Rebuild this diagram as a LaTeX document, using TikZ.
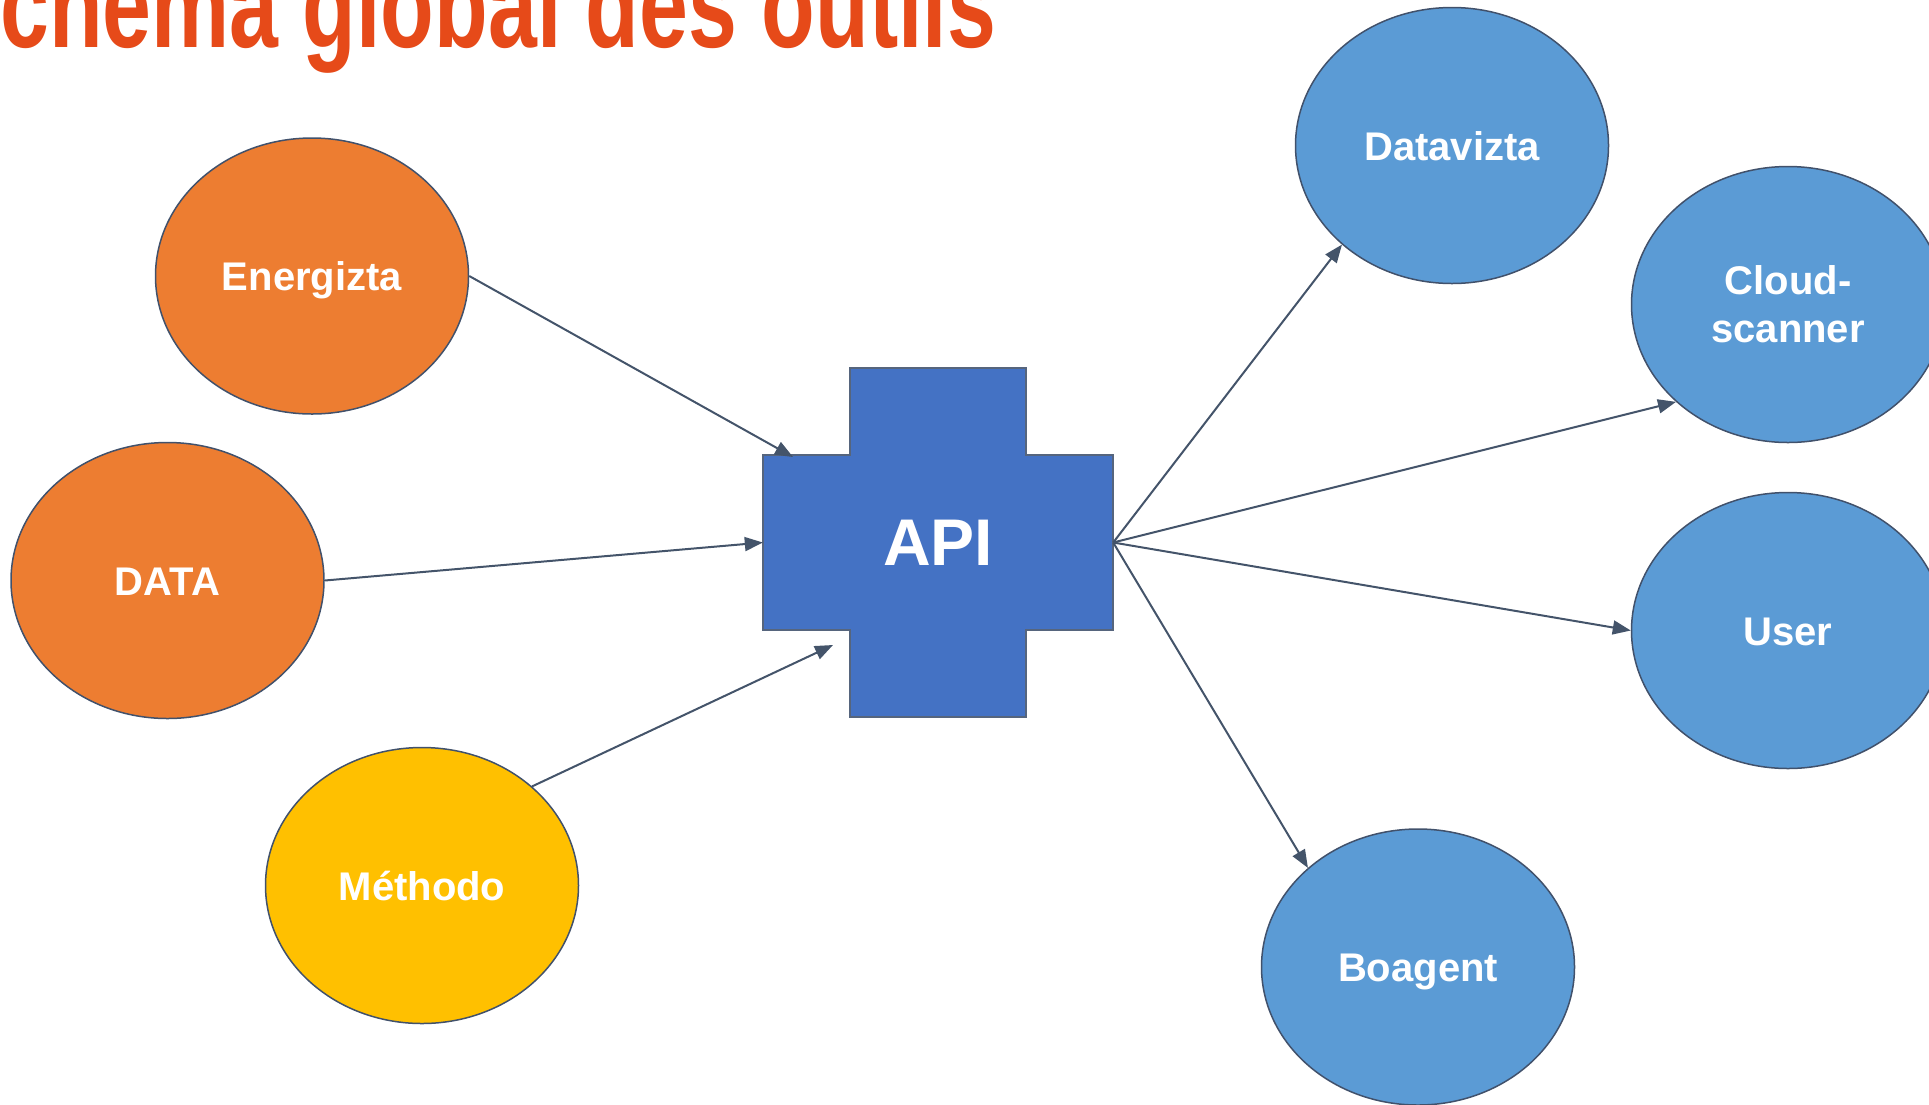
\documentclass[tikz,border=0pt]{standalone}
\usepackage{fontspec}
\setmainfont{Liberation Sans}
\newfontfamily\titlefont[FakeStretch=0.72]{Liberation Sans}
\usepackage{tikz}
\usetikzlibrary{shapes.geometric, arrows.meta, positioning, calc}
\definecolor{titleRed}{HTML}{E64A19}
\definecolor{srcOrange}{HTML}{ED7D31}
\definecolor{srcYellow}{HTML}{FFC000}
\definecolor{outBlue}{HTML}{5B9BD5}
\definecolor{apiBlue}{HTML}{4472C4}
\definecolor{edgeLine}{HTML}{41516B}
\definecolor{apiEdge}{HTML}{56657D}
\definecolor{arrowLine}{HTML}{44546A}
\tikzstyle{arrow} = [line width=2pt,draw=arrowLine,-{Triangle[length=18pt,width=14pt]}]
\tikzset{
toolU/.style={shape=ellipse,draw=edgeLine,line width=1.5pt,minimum width=313pt,minimum height=276pt,inner sep=0pt,text=white,align=center,font=\bfseries\fontsize{40}{48}\selectfont},
oneLine/.style={text height=29pt,text depth=0pt}
}

\begin{document}
\begin{tikzpicture}[x=1pt,y=-1pt]
\useasboundingbox (0,0) rectangle (1929,1104);
\clip (0,0) rectangle (1929,1104);
%----------------------------------------------------------------------------
% Title
\node (title) [anchor=base west,inner sep=0pt,text=titleRed,font=\titlefont\bfseries\fontsize{122}{126}\selectfont] at (0,47) {\llap{S}chéma global des outils};

%----------------------------------------------------------------------------
% API cross
\draw [fill=apiBlue,draw=apiEdge,line width=1.5pt] (763,455) -| (850,368) -| (1026,455) -| (1113,630) -| (1026,717) -| (850,630) -| (763,455) -- cycle;
\node (api) [minimum width=350pt,minimum height=349pt,inner sep=0pt,text=white,font=\bfseries\fontsize{66}{70}\selectfont] at (938,542.5) {API};

%----------------------------------------------------------------------------
% Placement of tool nodes
\node (energizta) [toolU,oneLine,fill=srcOrange] at (312,276) {Energizta};
\node (data) [toolU,oneLine,fill=srcOrange] at (167.5,580.5) {DATA};
\node (methodo) [toolU,oneLine,fill=srcYellow] at (422,885.5) {Méthodo};
\node (datavizta) [toolU,oneLine,fill=outBlue] at (1452,145.5) {Datavizta};
\node (cloudScanner) [toolU,fill=outBlue] at (1788,304.5) {Cloud-\\scanner};
\node (user) [toolU,oneLine,fill=outBlue] at (1788,630.5) {User};
\node (boagent) [toolU,oneLine,fill=outBlue] at (1418,967) {Boagent};

\coordinate (apiTop) at (793,457);
\coordinate (apiLow) at (833,645);

%----------------------------------------------------------------------------
% Lines
\draw [arrow] (energizta.east) -- (apiTop);
\draw [arrow] (data.east) -- (api.west);
\draw [arrow] (methodo.42) -- (apiLow);
\draw [arrow] (api.east) -- (datavizta.222);
\draw [arrow] (api.east) -- (cloudScanner.221);
\draw [arrow] (api.east) -- (user.west);
\draw [arrow] (api.east) -- (boagent.138);

\end{tikzpicture}
\end{document}
